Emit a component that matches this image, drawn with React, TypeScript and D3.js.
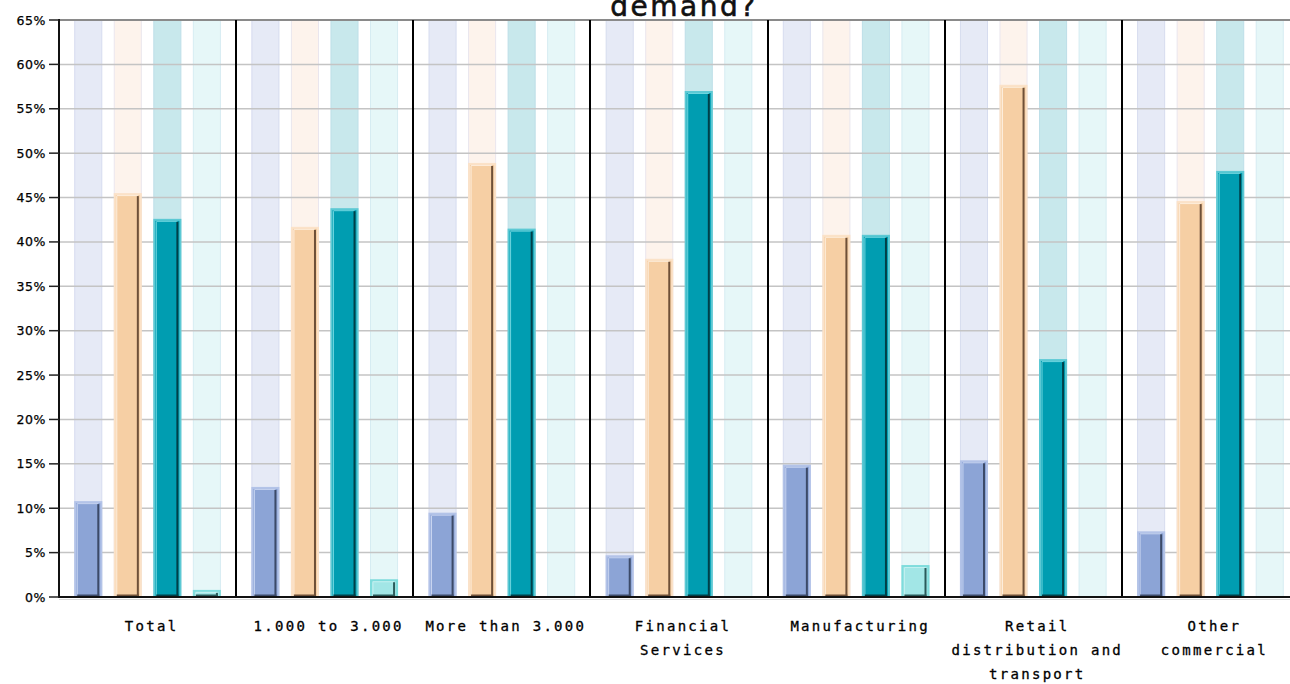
import React from "react";
import * as d3 from "d3";

const categories = [
  "Total",
  "1.000 to 3.000",
  "More than 3.000",
  "Financial\nServices",
  "Manufacturing",
  "Retail\ndistribution and\ntransport",
  "Other\ncommercial",
];
const seriesNames = ["s1", "s2", "s3", "s4"];
const series1 = [10.8, 12.4, 9.5, 4.7, 14.9, 15.4, 7.4];
const series2 = [45.5, 41.7, 48.9, 38.1, 40.8, 57.7, 44.6];
const series3 = [42.6, 43.8, 41.5, 57.0, 40.8, 26.8, 48.0];
const series4 = [0.8, 2.0, 0, 0, 3.6, 0, 0];
const yTicks = [0, 5, 10, 15, 20, 25, 30, 35, 40, 45, 50, 55, 60, 65];
const titleText = "demand?";

const seriesValues = [series1, series2, series3, series4];
const seriesStyles = [
  { bar: "#8ca4d6", border: "#b3c3e8", hi: "#c8d4f0", shadow: "#3c4a68", band: "#e6eaf6", bandBorder: "#d6dcef" },
  { bar: "#f6cfa4", border: "#fbe2c8", hi: "#fdeedd", shadow: "#6e5038", band: "#fdf3ec", bandBorder: "#eae6ee" },
  { bar: "#009db1", border: "#5cc9d4", hi: "#6fd6df", shadow: "#003f48", band: "#c8e8ec", bandBorder: "#bedfe8" },
  { bar: "#a2e6e6", border: "#7fdcdc", hi: "#c4f0f0", shadow: "#2a5a5a", band: "#e6f7f8", bandBorder: "#d6ecf2" },
];

const W = 1290;
const H = 684;
const plotLeft = 59;
const plotRight = 1299;
const plotTop = 20;
const plotBottom = 597;

export default function App() {
  const x = d3.scaleBand<string>().domain(categories).range([plotLeft, plotRight]).padding(0);
  const y = d3.scaleLinear().domain([0, 65]).range([plotBottom, plotTop]);
  const inner = d3
    .scaleBand<string>()
    .domain(seriesNames)
    .range([0, x.bandwidth()])
    .paddingInner(0.29)
    .paddingOuter(0.385);
  const bw = inner.bandwidth();

  return (
    <div style={{ position: "absolute", left: 0, top: 0 }}>
      <svg width={W} height={H} style={{ display: "block", background: "#fff" }}>
        {/* background bands */}
        {categories.map((c) =>
          seriesNames.map((s, si) => {
            const bx = (x(c) as number) + (inner(s) as number);
            const st = seriesStyles[si];
            return (
              <rect
                key={`band-${c}-${s}`}
                x={bx + 0.5}
                y={plotTop}
                width={bw - 1}
                height={plotBottom - plotTop}
                fill={st.band}
                stroke={st.bandBorder}
                strokeWidth={1}
              />
            );
          })
        )}
        {/* gridlines */}
        {yTicks
          .filter((t) => t > 0 && t < 65)
          .map((t) => (
            <line key={`g${t}`} x1={plotLeft} x2={W} y1={y(t)} y2={y(t)} stroke="#c4c4c4" strokeWidth={1.5} />
          ))}
        <line x1={plotLeft} x2={W} y1={y(65)} y2={y(65)} stroke="#8a8a8a" strokeWidth={2} />
        {/* bars */}
        {categories.map((c, ci) =>
          seriesNames.map((s, si) => {
            const v = seriesValues[si][ci];
            if (!v) return null;
            const bx = (x(c) as number) + (inner(s) as number);
            const st = seriesStyles[si];
            const top = y(v);
            const h = plotBottom - top;
            return (
              <g key={`bar-${c}-${s}`}>
                <rect x={bx + 1} y={top + 1} width={bw - 2} height={h - 1} fill={st.bar} stroke={st.border} strokeWidth={2} />
                <line x1={bx + 3} x2={bx + 3} y1={top + 3} y2={plotBottom} stroke={st.hi} strokeWidth={1} />
                <line x1={bx + 3} x2={bx + bw - 4} y1={top + 2.5} y2={top + 2.5} stroke={st.hi} strokeWidth={1} />
                <rect x={bx + bw - 5} y={top + 3} width={2} height={h - 3} fill={st.shadow} />
                <rect x={bx + 3} y={plotBottom - 2.5} width={bw - 6} height={2.5} fill={st.shadow} />
              </g>
            );
          })
        )}
        {/* group dividers */}
        {categories.slice(1).map((c) => (
          <line
            key={`d-${c}`}
            x1={Math.round(x(c) as number)}
            x2={Math.round(x(c) as number)}
            y1={plotTop}
            y2={plotBottom}
            stroke="#000"
            strokeWidth={2}
          />
        ))}
        {/* axes */}
        <line x1={plotLeft} x2={plotLeft} y1={plotTop - 1} y2={plotBottom + 1} stroke="#111" strokeWidth={2} />
        <line x1={plotLeft - 1} x2={W} y1={plotBottom} y2={plotBottom} stroke="#111" strokeWidth={2} />
        <line x1={plotLeft} x2={W} y1={plotBottom + 2.5} y2={plotBottom + 2.5} stroke="#d8d8d8" strokeWidth={1} />
        {yTicks.map((t) => (
          <g key={`t${t}`}>
            <line x1={plotLeft - 10} x2={plotLeft} y1={y(t)} y2={y(t)} stroke="#222" strokeWidth={1.5} />
            <text
              x={46}
              y={y(t)}
              dy="0.36em"
              textAnchor="end"
              fontFamily="DejaVu Sans"
              fontSize={12.5}
              letterSpacing={0.6}
              fill="#000"
              stroke="#000"
              strokeWidth={0.25}
            >
              {`${t}%`}
            </text>
          </g>
        ))}
        {/* category labels */}
        {categories.map((c) => {
          const cx = (x(c) as number) + x.bandwidth() / 2 + 4;
          return (
            <text
              key={`l-${c}`}
              textAnchor="middle"
              fontFamily="DejaVu Sans Mono"
              fontSize={14}
              letterSpacing={2.3}
              fill="#000"
              stroke="#000"
              strokeWidth={0.3}
            >
              {c.split("\n").map((line, li) => (
                <tspan key={li} x={cx} y={631 + li * 24}>
                  {line}
                </tspan>
              ))}
            </text>
          );
        })}
        {/* title */}
        <text
          x={684}
          y={16}
          textAnchor="middle"
          fontFamily="DejaVu Sans"
          fontSize={28}
          letterSpacing={2.5}
          fill="#111"
          stroke="#111"
          strokeWidth={0.6}
        >
          {titleText}
        </text>
      </svg>
    </div>
  );
}
